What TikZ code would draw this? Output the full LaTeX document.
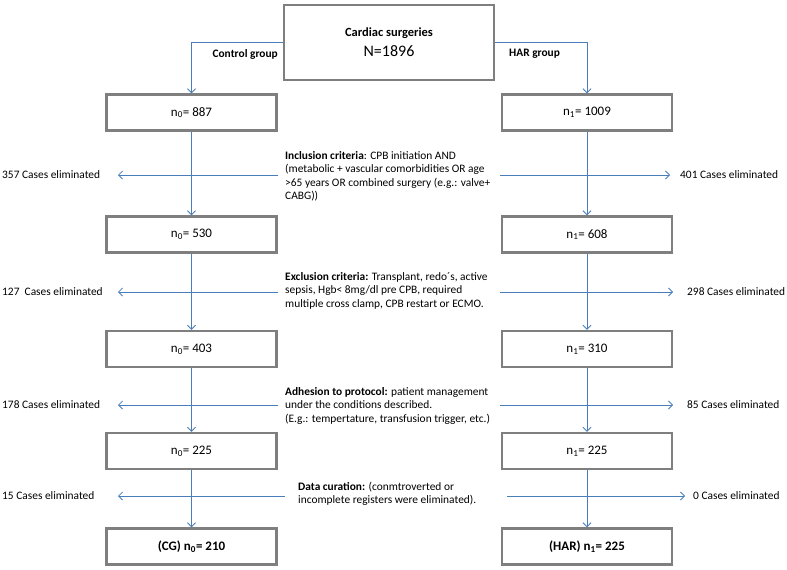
\documentclass[tikz,border=0pt]{standalone}
\usepackage{fontspec}
\setmainfont{Carlito}
\usetikzlibrary{arrows.meta}
\definecolor{boxgray}{RGB}{127,127,127}
\definecolor{flowblue}{RGB}{74,126,187}

\begin{document}
\begin{tikzpicture}[x=1pt,y=-1pt]
\tikzstyle{every node}=[font=\fontsize{11.4}{13.5}\selectfont,inner sep=0pt]
\tikzstyle{box}=[draw=boxgray,line width=2.4pt,minimum width=170pt,minimum height=36pt,font=\fontsize{13}{15}\selectfont]
\tikzstyle{flow}=[draw=flowblue,line width=0.8pt,-{Straight Barb[length=4pt,width=8pt]}]
\tikzstyle{note}=[align=left,anchor=west]
\tikzstyle{grp}=[font=\bfseries\fontsize{11.4}{13.5}\selectfont]
\useasboundingbox (0,0) rectangle (787,570);

\node[box,minimum width=210pt,minimum height=75pt,align=center] (cs) at (389,42.5)
  {{\bfseries\fontsize{12.5}{15}\selectfont Cardiac surgeries}\\[5pt]{\fontsize{16}{18}\selectfont N=1896}};

\node[box] (c1) at (191.5,112.5) {n\textsubscript{0}= 887};
\node[box] (c2) at (191.5,234.5) {n\textsubscript{0}= 530};
\node[box] (c3) at (191.5,349) {n\textsubscript{0}= 403};
\node[box] (c4) at (191.5,451) {n\textsubscript{0}= 225};
\node[box,font=\bfseries\fontsize{13}{15}\selectfont] (c5) at (191.5,546.5) {(CG) n\textsubscript{0}= 210};

\node[box] (h1) at (587,112.5) {n\textsubscript{1}= 1009};
\node[box] (h2) at (587,234.5) {n\textsubscript{1}= 608};
\node[box] (h3) at (587,349) {n\textsubscript{1}= 310};
\node[box] (h4) at (587,451) {n\textsubscript{1}= 225};
\node[box,font=\bfseries\fontsize{13}{15}\selectfont] (h5) at (587,546.5) {(HAR) n\textsubscript{1}= 225};

\draw[flow] (cs.west) -| (c1);
\draw[flow] (cs.east) -| (h1);
\node[grp,anchor=east] (cgl) at (278,54) {Control group};
\node[grp,anchor=west] (hgl) at (509,54) {HAR group};

\draw[flow] (c1) -- (c2);
\draw[flow] (c2) -- (c3);
\draw[flow] (c3) -- (c4);
\draw[flow] (c4) -- (c5);
\draw[flow] (h1) -- (h2);
\draw[flow] (h2) -- (h3);
\draw[flow] (h3) -- (h4);
\draw[flow] (h4) -- (h5);

\node[note] (inc) at (285,176.5) {\textbf{Inclusion criteria}: CPB initiation AND\\
  (metabolic + vascular comorbidities OR age\\
  >65 years OR combined surgery (e.g.: valve+\\
  CABG))};
\node[note] (exc) at (285,290.5) {\textbf{Exclusion criteria:} Transplant, redo´s, active\\
  sepsis, Hgb< 8mg/dl pre CPB, required\\
  multiple cross clamp, CPB restart or ECMO.};
\node[note] (adh) at (285,405.5) {\textbf{Adhesion to protocol:} patient management\\
  under the conditions described.\\
  (E.g.: tempertature, transfusion trigger, etc.)};
\node[note] (cur) at (298,494) {\textbf{Data curation:} (conmtroverted or\\
  incomplete registers were eliminated).};

\node[anchor=west] (e1) at (2,175) {357 Cases eliminated};
\node[anchor=west] (e2) at (2,292) {127~ Cases eliminated};
\node[anchor=west] (e3) at (2,405) {178 Cases eliminated};
\node[anchor=west] (e4) at (2,496) {15 Cases eliminated};
\node[anchor=west] (f1) at (680,175) {401 Cases eliminated};
\node[anchor=west] (f2) at (687,292) {298 Cases eliminated};
\node[anchor=west] (f3) at (687,405) {85 Cases eliminated};
\node[anchor=west] (f4) at (693,496) {0 Cases eliminated};

\coordinate (l1) at (278,175); \coordinate (l1e) at (118,175);
\coordinate (l2) at (278,292); \coordinate (l2e) at (118,292);
\coordinate (l3) at (278,405); \coordinate (l3e) at (118,405);
\coordinate (l4) at (285,496); \coordinate (l4e) at (118,496);
\coordinate (r1) at (500,175); \coordinate (r1e) at (670,175);
\coordinate (r2) at (500,292); \coordinate (r2e) at (673,292);
\coordinate (r3) at (500,405); \coordinate (r3e) at (673,405);
\coordinate (r4) at (507,496); \coordinate (r4e) at (685,496);
\draw[flow] (l1) -- (l1e);
\draw[flow] (l2) -- (l2e);
\draw[flow] (l3) -- (l3e);
\draw[flow] (l4) -- (l4e);
\draw[flow] (r1) -- (r1e);
\draw[flow] (r2) -- (r2e);
\draw[flow] (r3) -- (r3e);
\draw[flow] (r4) -- (r4e);
\end{tikzpicture}
\end{document}
